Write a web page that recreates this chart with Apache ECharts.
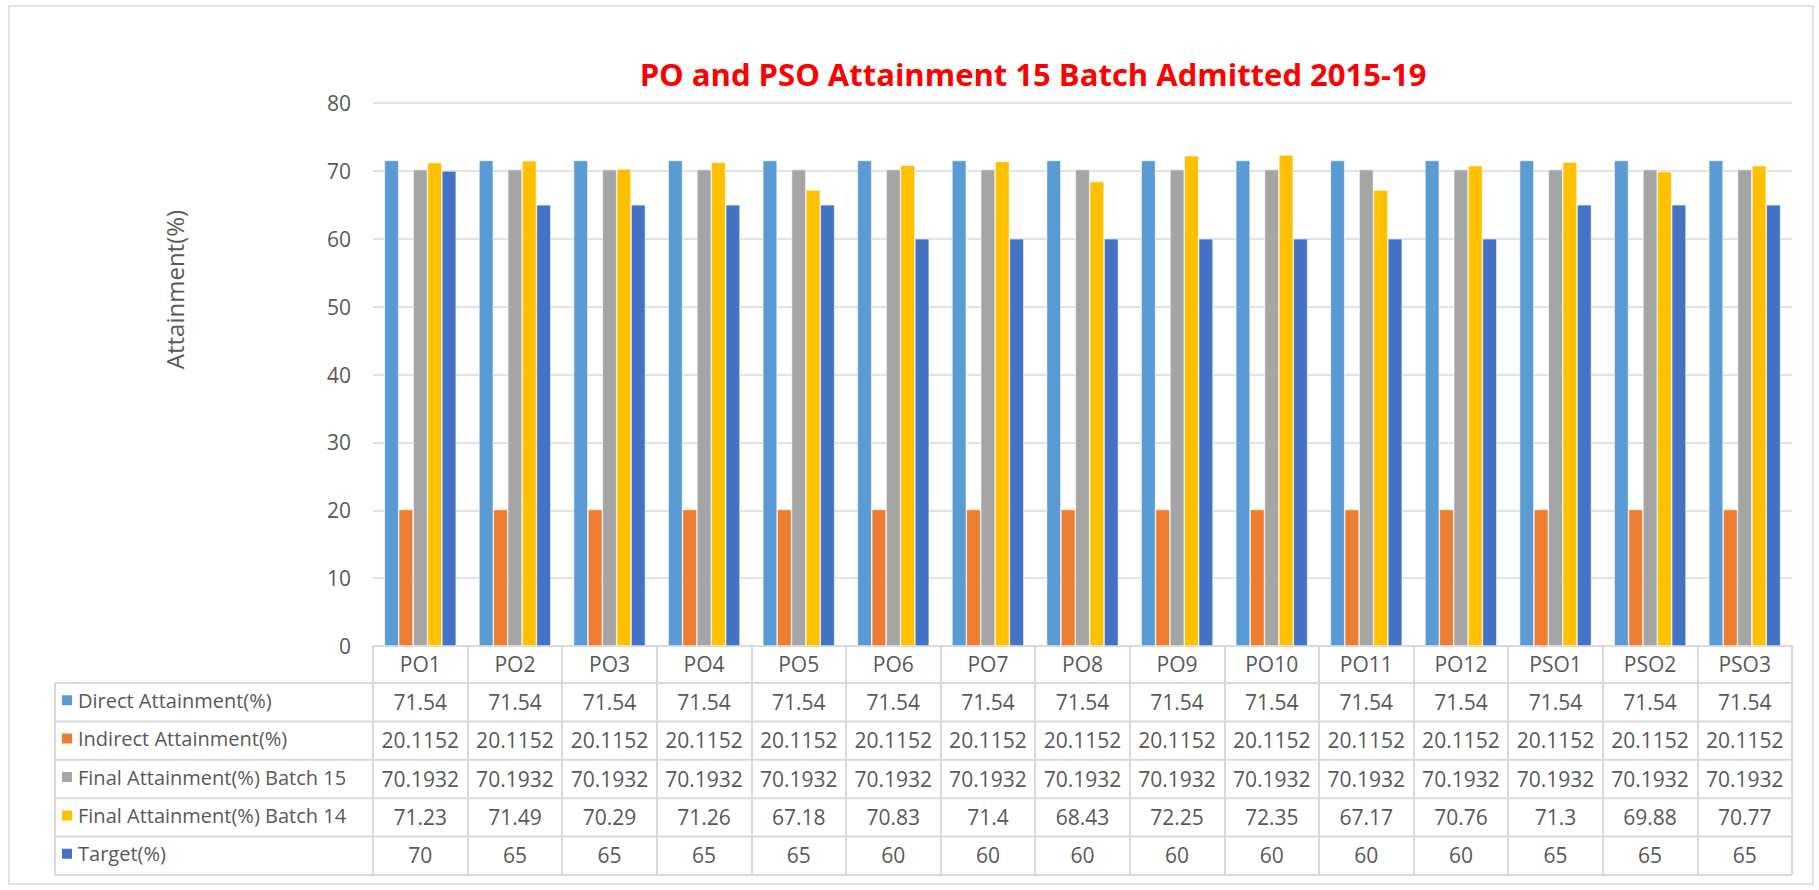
<!DOCTYPE html>
<html>
<head>
<meta charset="utf-8">
<script src="https://cdn.jsdelivr.net/npm/echarts@6/dist/echarts.min.js"></script>
<style>
html,body{margin:0;padding:0;background:#fff;}
#c{width:1819px;height:890px;}
</style>
</head>
<body>
<div id="c"></div>
<script>
const categories = ['PO1','PO2','PO3','PO4','PO5','PO6','PO7','PO8','PO9','PO10','PO11','PO12','PSO1','PSO2','PSO3'];
const seriesNames = ['Direct Attainment(%)','Indirect Attainment(%)','Final Attainment(%) Batch 15','Final Attainment(%) Batch 14','Target(%)'];
const directAttainment = [71.54,71.54,71.54,71.54,71.54,71.54,71.54,71.54,71.54,71.54,71.54,71.54,71.54,71.54,71.54];
const indirectAttainment = [20.1152,20.1152,20.1152,20.1152,20.1152,20.1152,20.1152,20.1152,20.1152,20.1152,20.1152,20.1152,20.1152,20.1152,20.1152];
const finalBatch15 = [70.1932,70.1932,70.1932,70.1932,70.1932,70.1932,70.1932,70.1932,70.1932,70.1932,70.1932,70.1932,70.1932,70.1932,70.1932];
const finalBatch14 = [71.23,71.49,70.29,71.26,67.18,70.83,71.4,68.43,72.25,72.35,67.17,70.76,71.3,69.88,70.77];
const target = [70,65,65,65,65,60,60,60,60,60,60,60,65,65,65];
const yTicks = [0,10,20,30,40,50,60,70,80];

const rows = [directAttainment, indirectAttainment, finalBatch15, finalBatch14, target];
const colors = ['#5B9BD5','#ED7D31','#A5A5A5','#FFC000','#4472C4'];

const FONT = '"Open Sans", "Liberation Sans", sans-serif';
const TXT = '#595959';
const LINE = '#D9D9D9';

// layout
const gridLeft = 373, gridRight = 1792, gridTop = 103, gridBottomY = 646;
const headerBottom = 683;
const rowH = 38.4;
const tableBottom = headerBottom + rowH * 5;
const tableLeft = 55;

const chart = echarts.init(document.getElementById('c'), null, {renderer: 'svg'});

const xAxes = [{
  type: 'category',
  data: categories,
  position: 'bottom',
  axisLine: {show: true, lineStyle: {color: LINE, width: 2}},
  axisTick: {show: true, interval: 0, length: tableBottom - gridBottomY, lineStyle: {color: LINE, width: 2}},
  axisLabel: {interval: 0, color: TXT, fontSize: 21, fontFamily: FONT, margin: 7},
  splitLine: {show: false}
}];
rows.forEach((row, k) => {
  const center = headerBottom + rowH * k + rowH / 2;
  xAxes.push({
    type: 'category',
    data: categories,
    position: 'bottom',
    offset: center - 11 - gridBottomY,
    axisLine: {show: false},
    axisTick: {show: false},
    axisLabel: {interval: 0, color: TXT, fontSize: 21, fontFamily: FONT, margin: 0,
      formatter: (v, i) => String(row[i])}
  });
});

const legends = seriesNames.map((name, k) => ({
  data: [name],
  left: 60,
  top: headerBottom + rowH * k + rowH / 2 - 12,
  icon: 'rect',
  itemWidth: 12,
  itemHeight: 12,
  padding: 0,
  selectedMode: false,
  textStyle: {color: TXT, fontSize: 20, fontFamily: FONT}
}));

const graphics = [];
graphics.push({type: 'rect', shape: {x: 9, y: 6, width: 1804, height: 878}, style: {fill: 'none', stroke: LINE, lineWidth: 1.5}, silent: true});
for (let k = 0; k <= 5; k++) {
  const y = headerBottom + rowH * k;
  graphics.push({type: 'line', shape: {x1: tableLeft, y1: y, x2: gridRight, y2: y}, style: {stroke: LINE, lineWidth: 2}, silent: true});
}
graphics.push({type: 'line', shape: {x1: tableLeft, y1: headerBottom, x2: tableLeft, y2: tableBottom}, style: {stroke: LINE, lineWidth: 2}, silent: true});

const series = seriesNames.map((name, k) => ({
  name: name,
  type: 'bar',
  data: rows[k],
  barGap: '0%',
  barCategoryGap: '24%',
  itemStyle: {color: colors[k], borderColor: '#ffffff', borderWidth: 0.6},
  emphasis: {disabled: true}
}));

chart.setOption({
  animation: false,
  textStyle: {fontFamily: FONT},
  title: {
    text: 'PO and PSO Attainment 15 Batch Admitted 2015-19',
    left: 1033,
    textAlign: 'center',
    top: 58,
    padding: 0,
    textStyle: {color: '#FF0000', fontSize: 31, fontWeight: 'bold', fontFamily: FONT}
  },
  legend: legends,
  grid: {left: gridLeft, right: 1819 - gridRight, top: gridTop, bottom: 890 - gridBottomY},
  xAxis: xAxes,
  yAxis: {
    type: 'value',
    min: yTicks[0],
    max: yTicks[yTicks.length - 1],
    interval: 10,
    name: 'Attainment(%)',
    nameLocation: 'middle',
    nameGap: 187,
    nameTextStyle: {color: TXT, fontSize: 24, fontFamily: FONT, padding: [0, 0, 0, 170]},
    axisLine: {show: false},
    axisTick: {show: false},
    axisLabel: {color: TXT, fontSize: 21, fontFamily: FONT, margin: 22},
    splitLine: {lineStyle: {color: LINE, width: 1.5}}
  },
  series: series,
  graphic: graphics
});
</script>
</body>
</html>
